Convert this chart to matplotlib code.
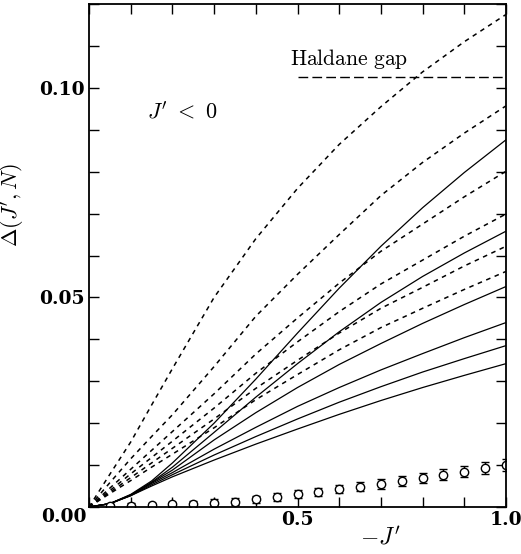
import matplotlib
matplotlib.use("Agg")
import numpy as np
from matplotlib import pyplot as plt

plt.rcParams['mathtext.fontset'] = 'cm'
plt.rcParams['font.family'] = 'serif'
plt.rcParams['font.serif'] = ['DejaVu Serif']

x_curve = [0, 0.05, 0.1, 0.15, 0.2, 0.3, 0.4, 0.5, 0.6, 0.7, 0.8, 0.9, 1.0]

# dashed curves (top to bottom at -J' = 1)
dashed_1 = [0, 0.0078, 0.0155, 0.0243, 0.033, 0.050, 0.064, 0.076, 0.0865, 0.0955, 0.1038, 0.111, 0.1175]
dashed_2 = [0, 0.0058, 0.0115, 0.0168, 0.022, 0.0335, 0.0455, 0.0555, 0.065, 0.0743, 0.0822, 0.0892, 0.0957]
dashed_3 = [0, 0.0045, 0.009, 0.0135, 0.018, 0.027, 0.0365, 0.0451, 0.0534, 0.061, 0.0675, 0.074, 0.0801]
dashed_4 = [0, 0.0039, 0.0079, 0.0118, 0.0157, 0.0236, 0.0319, 0.0394, 0.0466, 0.0532, 0.0589, 0.0646, 0.0699]
dashed_5 = [0, 0.0035, 0.007, 0.0105, 0.014, 0.021, 0.0283, 0.035, 0.0415, 0.0474, 0.0524, 0.0575, 0.0622]
dashed_6 = [0, 0.0032, 0.0063, 0.0095, 0.0126, 0.0189, 0.0256, 0.0316, 0.0375, 0.0428, 0.0474, 0.0519, 0.0562]

# solid curves (top to bottom at -J' = 1)
solid_1 = [0, 0.0008, 0.003, 0.0062, 0.0105, 0.0200, 0.0305, 0.0415, 0.0522, 0.0622, 0.0714, 0.0798, 0.0876]
solid_2 = [0, 0.0008, 0.0029, 0.0059, 0.0095, 0.0178, 0.0262, 0.0342, 0.0418, 0.0488, 0.0550, 0.0606, 0.0658]
solid_3 = [0, 0.0008, 0.0028, 0.0058, 0.0088, 0.0160, 0.0225, 0.0285, 0.034, 0.039, 0.0438, 0.0483, 0.0526]
solid_4 = [0, 0.0008, 0.0028, 0.0056, 0.0082, 0.0138, 0.0190, 0.0240, 0.0285, 0.0327, 0.0366, 0.0404, 0.0440]
solid_5 = [0, 0.0008, 0.0027, 0.0053, 0.0077, 0.0124, 0.0168, 0.0210, 0.0250, 0.0287, 0.0322, 0.0354, 0.0385]
solid_6 = [0, 0.0008, 0.0027, 0.0050, 0.0072, 0.0112, 0.0150, 0.0186, 0.0221, 0.0254, 0.0285, 0.0314, 0.0342]

# points with error bars
x_pts = [0.05, 0.1, 0.15, 0.2, 0.25, 0.3, 0.35, 0.4, 0.45, 0.5,
         0.55, 0.6, 0.65, 0.7, 0.75, 0.8, 0.85, 0.9, 0.95, 1.0]
y_pts = [0.0002, 0.0003, 0.0004, 0.0006, 0.0008, 0.0010, 0.0013, 0.0018, 0.0024, 0.0031,
         0.0036, 0.0043, 0.0048, 0.0055, 0.0062, 0.0069, 0.0077, 0.0084, 0.0093, 0.0100]
y_err = [0.0006, 0.0006, 0.0006, 0.0007, 0.0007, 0.0008, 0.0008, 0.0009, 0.0009, 0.0009,
         0.0010, 0.0010, 0.0011, 0.0011, 0.0012, 0.0012, 0.0013, 0.0013, 0.0014, 0.0015]

haldane_gap = 0.1026
haldane_x = [0.5, 1.0]

y_tick_labels = {0.05: '0.05', 0.10: '0.10'}
x_tick_labels = {0.5: '0.5', 1.0: '1.0'}

fig = plt.figure(figsize=(5.21, 5.54), dpi=100)
ax = fig.add_axes([89 / 521, 1 - 507 / 554, 417 / 521, 503 / 554])

for ys in [dashed_1, dashed_2, dashed_3, dashed_4, dashed_5, dashed_6]:
    ax.plot(x_curve, ys, color='black', lw=1.1, dashes=(3, 3))
for ys in [solid_1, solid_2, solid_3, solid_4, solid_5, solid_6]:
    ax.plot(x_curve, ys, color='black', lw=0.9)

ax.errorbar(x_pts, y_pts, yerr=y_err, fmt='o', mfc='white', mec='black', ms=6,
            mew=1.0, ecolor='black', elinewidth=1.0, capsize=3, capthick=1.0)

ax.plot(haldane_x, [haldane_gap, haldane_gap], color='black', lw=1.0, dashes=(7, 3))
ax.text(0.482, 0.1069, r'$\mathrm{Haldane\ gap}$', fontsize=15.5, va='center', ha='left')
ax.text(0.139, 0.094, r"$J'\ <\ 0$", fontsize=16, va='center', ha='left')

ax.set_xlim(0, 1.0)
ax.set_ylim(0, 0.12)

# ticks every 0.1 / 0.01, labels only on a few
xt = np.round(np.arange(0, 1.01, 0.1), 2)
yt = np.round(np.arange(0, 0.1201, 0.01), 3)
ax.set_xticks(xt)
ax.set_yticks(yt)
ax.set_xticklabels([x_tick_labels.get(v, '') for v in xt])
ax.set_yticklabels([y_tick_labels.get(v, '') for v in yt])
ax.tick_params(direction='in', top=True, right=True, length=7, width=1.0,
               labelsize=13.5, pad=3)
for lab in ax.get_xticklabels() + ax.get_yticklabels():
    lab.set_fontweight('bold')
ax.text(-0.005, -0.02, '0.00', transform=ax.transAxes, fontsize=13.5,
        fontweight='bold', ha='right', va='center')

for sp in ax.spines.values():
    sp.set_linewidth(1.3)

ax.set_xlabel(r"$-J'$", fontsize=17)
ax.xaxis.set_label_coords(0.698, -0.037)
ax.set_ylabel(r"$\Delta(J',N)$", fontsize=16)
ax.yaxis.set_label_coords(-0.15, 0.6)

fig.savefig('out.png', dpi=100)
